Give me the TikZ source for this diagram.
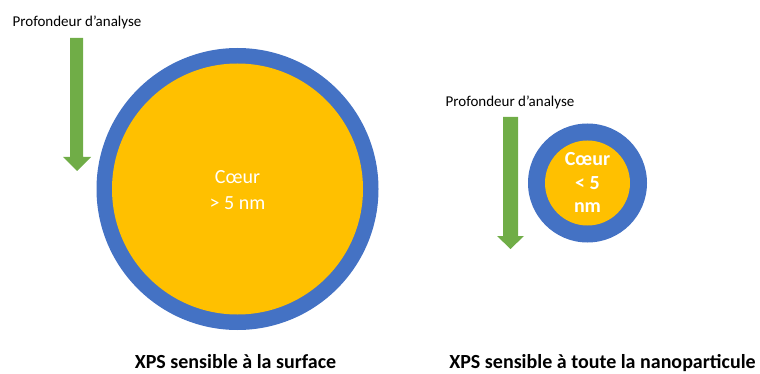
\documentclass[tikz,border=0pt]{standalone}
\usepackage{fontspec}
\setmainfont{Carlito}
\definecolor{shellblue}{HTML}{4472C4}
\definecolor{coreyellow}{HTML}{FFC000}
\definecolor{arrowgreen}{HTML}{70AD47}
\begin{document}
\begin{tikzpicture}[x=1pt,y=-1pt,
  shell/.style={circle,fill=shellblue,inner sep=0pt,draw=none},
  core/.style={circle,fill=coreyellow,inner sep=0pt,draw=none},
  coretext/.style={anchor=base,inner sep=0pt,text=white,font=\fontsize{20}{24}\selectfont},
  coretextb/.style={anchor=base,inner sep=0pt,text=white,font=\fontsize{20}{24}\selectfont\bfseries},
  depthlabel/.style={anchor=base,inner sep=0pt,font=\fontsize{15}{18}\selectfont},
  caption/.style={anchor=base,inner sep=0pt,font=\fontsize{20}{24}\selectfont\bfseries},
  depth/.style={fill=arrowgreen,draw=none}]
\useasboundingbox (0,0) rectangle (760,374);
% large particle
\node[shell,minimum size=282pt] (bigshell) at (237.5,189) {};
\node[core,minimum size=251pt] (bigcore) at (237.5,189) {};
\node[coretext] (bigt1) at (237.5,184) {Cœur};
\node[coretext] (bigt2) at (237.5,209) {> 5 nm};
% small particle
\node[shell,minimum size=119pt] (smallshell) at (587.5,183) {};
\node[core,minimum size=85pt] (smallcore) at (587.5,183) {};
\node[coretextb] (smt1) at (587.5,165.5) {Cœur};
\node[coretextb] (smt2) at (587.5,189.5) {< 5};
\node[coretextb] (smt3) at (587.5,213) {nm};
% depth labels
\node[depthlabel] (lab1) at (77,27) {Profondeur d’analyse};
\node[depthlabel] (lab2) at (510,107) {Profondeur d’analyse};
% arrows
\fill[depth] (70,38) -- (83,38) -- (83,157) -- (91,157) -- (77,171) -- (63,157) -- (70,157) -- cycle;
\fill[depth] (503,117) -- (518,117) -- (518,236) -- (524,236) -- (510.5,249) -- (497,236) -- (503,236) -- cycle;
% captions
\node[caption] (cap1) at (235.5,368.5) {XPS sensible à la surface};
\node[caption] (cap2) at (602.5,368.5) {XPS sensible à toute la nanoparticule};
\end{tikzpicture}
\end{document}
